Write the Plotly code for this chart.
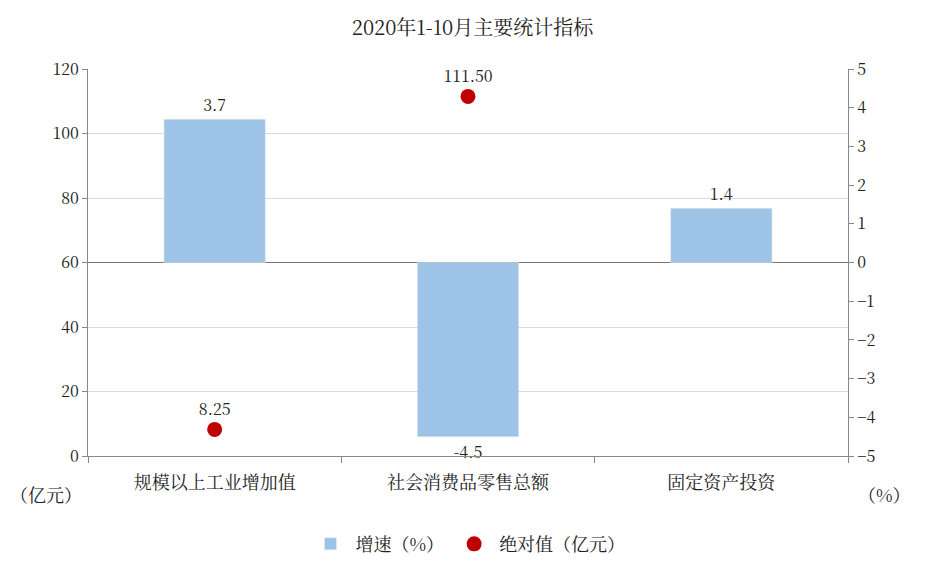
import plotly.graph_objects as go

categories = ["规模以上工业增加值", "社会消费品零售总额", "固定资产投资"]
growth = [3.7, -4.5, 1.4]
abs_cats = ["规模以上工业增加值", "社会消费品零售总额"]
abs_vals = [8.25, 111.50]

font = "Noto Serif CJK SC, Noto Sans CJK SC, serif"

fig = go.Figure()
fig.add_trace(go.Bar(
    x=categories, y=growth, name="增速（%）", yaxis="y2",
    marker_color="#9DC3E6", width=0.4,
    text=[f"{v:.1f}" for v in growth], textposition="outside",
    textfont=dict(size=16, color="#222"), cliponaxis=False,
))
fig.add_trace(go.Scatter(
    x=abs_cats, y=abs_vals, name="绝对值（亿元）", mode="markers+text",
    marker=dict(color="#C00000", size=15),
    text=[f"{v:.2f}" for v in abs_vals], textposition="top center",
    textfont=dict(size=16, color="#222"), cliponaxis=False,
))

fig.update_layout(
    width=929, height=569,
    paper_bgcolor="white", plot_bgcolor="white",
    font=dict(family=font, size=16, color="#222"),
    title=dict(text="2020年1-10月主要统计指标", x=0.5, xanchor="center",
               y=0.965, yanchor="middle", font=dict(size=20)),
    margin=dict(l=80, r=89, t=61, b=121, autoexpand=False),
    xaxis=dict(showline=True, linecolor="#888", ticks="outside", tickson="boundaries",
               ticklen=6, tickcolor="#888", tickfont=dict(size=18), ticklabelstandoff=10),
    yaxis=dict(range=[0, 120], dtick=20, showgrid=True, gridcolor="#d9d9d9",
               showline=True, linecolor="#888", ticks="outside", tickcolor="#888",
               zeroline=False),
    yaxis2=dict(range=[-5, 5], dtick=1, overlaying="y", side="right", showgrid=False,
                showline=True, linecolor="#888", ticks="outside", tickcolor="#888",
                zeroline=True, zerolinecolor="#777", zerolinewidth=1),
    legend=dict(orientation="h", x=0.5, xanchor="center", y=-0.18, yanchor="top",
                font=dict(size=18), itemwidth=40),
    bargap=0.6,
    annotations=[
        dict(text="（亿元）", xref="paper", yref="paper", x=-0.005, y=-0.06,
             xanchor="right", yanchor="top", showarrow=False, font=dict(size=18)),
        dict(text="（%）", xref="paper", yref="paper", x=1.01, y=-0.06,
             xanchor="left", yanchor="top", showarrow=False, font=dict(size=18)),
    ],
)

fig.write_html("out.html")
